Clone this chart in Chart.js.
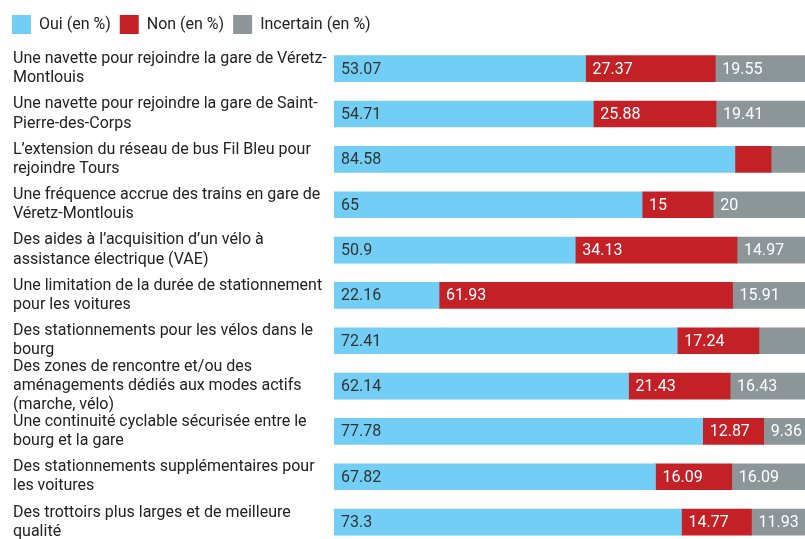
<!DOCTYPE html>
<html>
<head>
<meta charset="utf-8">
<script src="https://cdn.jsdelivr.net/npm/chart.js@4.4.1/dist/chart.umd.min.js"></script>
<style>
  html, body { margin: 0; padding: 0; background: #fff; overflow: hidden; }
  #wrap { position: relative; width: 808px; height: 564px; }
</style>
</head>
<body>
<div id="wrap"><canvas id="c"></canvas></div>
<script>
const categories = [
  ["Une navette pour rejoindre la gare de Véretz-", "Montlouis"],
  ["Une navette pour rejoindre la gare de Saint-", "Pierre-des-Corps"],
  ["L’extension du réseau de bus Fil Bleu pour", "rejoindre Tours"],
  ["Une fréquence accrue des trains en gare de", "Véretz-Montlouis"],
  ["Des aides à l’acquisition d’un vélo à", "assistance électrique (VAE)"],
  ["Une limitation de la durée de stationnement", "pour les voitures"],
  ["Des stationnements pour les vélos dans le", "bourg"],
  ["Des zones de rencontre et/ou des", "aménagements dédiés aux modes actifs", "(marche, vélo)"],
  ["Une continuité cyclable sécurisée entre le", "bourg et la gare"],
  ["Des stationnements supplémentaires pour", "les voitures"],
  ["Des trottoirs plus larges et de meilleure", "qualité"]
];
const seriesNames = ["Oui (en %)", "Non (en %)", "Incertain (en %)"];
const oui = [53.07, 54.71, 84.58, 65, 50.9, 22.16, 72.41, 62.14, 77.78, 67.82, 73.3];
const non = [27.37, 25.88, 7.63, 15, 34.13, 61.93, 17.24, 21.43, 12.87, 16.09, 14.77];
const incertain = [19.55, 19.41, 7.79, 20, 14.97, 15.91, 10.35, 16.43, 9.36, 16.09, 11.93];

const colors = ["#72cef4", "#c42127", "#8c9698"];
const labelColors = ["#333333", "#ffffff", "#ffffff"];
const FONT = "Roboto";

const barLabels = {
  id: "barLabels",
  afterDatasetsDraw(chart) {
    const ctx = chart.ctx;
    ctx.save();
    ctx.font = "16px " + FONT;
    ctx.textBaseline = "middle";
    ctx.textAlign = "left";
    chart.data.datasets.forEach((ds, di) => {
      const meta = chart.getDatasetMeta(di);
      meta.data.forEach((bar, i) => {
        const v = ds.data[i];
        const txt = String(v);
        const left = Math.min(bar.x, bar.base);
        const w = Math.abs(bar.x - bar.base);
        const tw = ctx.measureText(txt).width;
        if (tw + 12 > w) return;
        ctx.fillStyle = labelColors[di];
        ctx.fillText(txt, left + 7, bar.y + 1);
      });
    });
    ctx.restore();
  }
};

const legendTweak = {
  id: "legendTweak",
  beforeInit(chart) {
    const lg = chart.legend;
    if (!lg) return;
    const orig = lg.fit;
    lg.fit = function () { orig.call(this); this.height += 2; };
  },
  afterLayout(chart) {
    const lg = chart.legend;
    if (!lg) return;
    lg.left -= 10;
    lg.right -= 10;
  }
};

new Chart(document.getElementById("c"), {
  type: "bar",
  data: {
    labels: categories,
    datasets: [
      { label: seriesNames[0], data: oui, backgroundColor: colors[0] },
      { label: seriesNames[1], data: non, backgroundColor: colors[1] },
      { label: seriesNames[2], data: incertain, backgroundColor: colors[2] }
    ]
  },
  options: {
    indexAxis: "y",
    responsive: true,
    maintainAspectRatio: false,
    animation: false,
    layout: { padding: { left: 13, right: 0, top: 6, bottom: 0 } },
    datasets: { bar: { barThickness: 26, borderWidth: 0 } },
    scales: {
      x: { stacked: true, display: false, min: 0, max: 100 },
      y: {
        stacked: true,
        grid: { display: false },
        border: { display: false },
        afterFit(scale) { scale.width = 321; },
        ticks: {
          autoSkip: false,
          crossAlign: "far",
          padding: 0,
          color: "#222",
          font: { family: FONT, size: 16, lineHeight: 1.2 }
        }
      }
    },
    plugins: {
      tooltip: { enabled: false },
      legend: {
        position: "top",
        align: "start",
        labels: {
          boxWidth: 19,
          boxHeight: 19,
          padding: 9,
          color: "#222",
          font: { family: FONT, size: 16 }
        }
      }
    }
  },
  plugins: [barLabels, legendTweak]
});
</script>
</body>
</html>
